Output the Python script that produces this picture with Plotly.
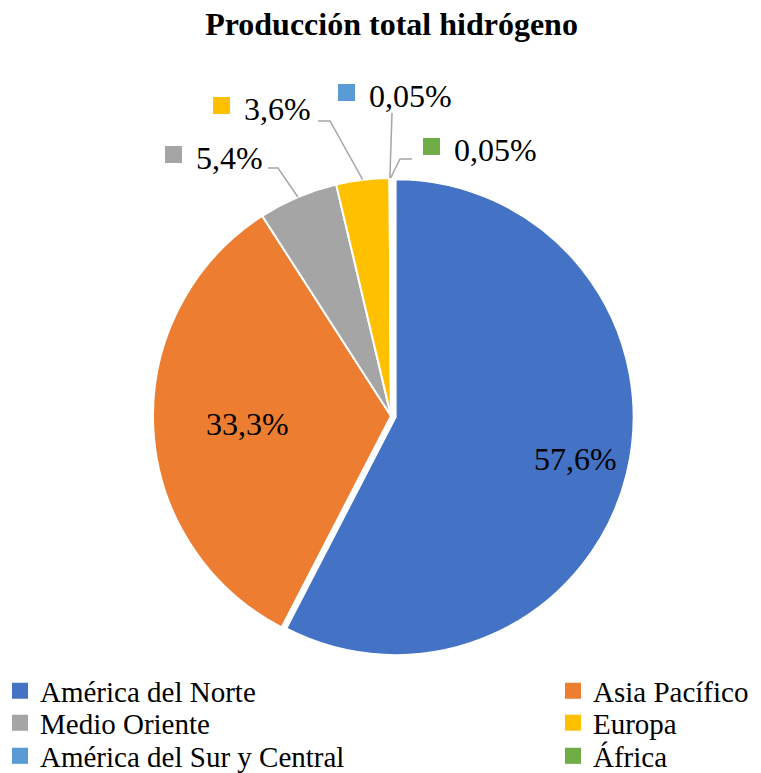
import math
import plotly.graph_objects as go

# ---------------- data ----------------
regions = ["América del Norte", "Asia Pacífico", "Medio Oriente", "Europa",
           "América del Sur y Central", "África"]
shares = [57.6, 33.3, 5.4, 3.6, 0.05, 0.05]
share_text = ["57,6%", "33,3%", "5,4%", "3,6%", "0,05%", "0,05%"]
colors = ["#4472C4", "#ED7D31", "#A5A5A5", "#FFC000", "#5B9BD5", "#70AD47"]

# ---------------- layout constants ----------------
W, H = 761, 773
CX, CY, R = 391.0, 416.0, 238.0
pull = [0.02, 0, 0, 0, 0, 0]
half = R * (1 + max(pull))
FONT = "Liberation Serif, Times New Roman, serif"
LINE_COLOR = "#A6A6A6"
SQ = 17          # label key square size
GAP = 14         # gap square -> text
LEG_COL_X = [0, 553]          # legend column left edges (px)
LEG_ROW_Y = [691, 723, 756]   # legend row centres (px)


def px(x):
    return x / W


def py(y):
    return 1 - y / H


# mid angle of each slice (clockwise from 12 o'clock)
total = sum(shares)
mids = []
cum = 0.0
for v in shares:
    mids.append((cum + v / 2) / total * 2 * math.pi)
    cum += v


def edge_point(i):
    t = mids[i]
    return CX + R * math.sin(t), CY - R * math.cos(t)


fig = go.Figure()
fig.add_trace(go.Pie(
    labels=regions, values=shares, sort=False, direction="clockwise", rotation=0,
    pull=pull, textinfo="none", hoverinfo="label+percent", showlegend=False,
    marker=dict(colors=colors, line=dict(color="white", width=2)),
    domain=dict(x=[px(CX - half), px(CX + half)], y=[py(CY + half), py(CY - half)]),
))

# legend entries: two columns, three rows (one legend box per entry)
legend_layouts = {}
for i, (name, c) in enumerate(zip(regions, colors)):
    key = "legend" if i == 0 else f"legend{i + 1}"
    fig.add_trace(go.Scatter(
        x=[None], y=[None], mode="markers", name=name,
        marker=dict(symbol="square", size=16, color=c),
        legend=key, hoverinfo="skip",
    ))
    legend_layouts[key] = dict(
        orientation="v", xanchor="left", yanchor="middle",
        x=px(LEG_COL_X[i % 2]), y=py(LEG_ROW_Y[i // 2]),
        font=dict(family=FONT, size=29, color="black"),
        bgcolor="rgba(0,0,0,0)", itemclick=False, itemdoubleclick=False,
    )

shapes = []
annotations = []


def add_label(i, sq_left, ty):
    shapes.append(dict(type="rect", xref="paper", yref="paper",
                       x0=px(sq_left), x1=px(sq_left + SQ),
                       y0=py(ty - 3.5 + SQ / 2), y1=py(ty - 3.5 - SQ / 2),
                       fillcolor=colors[i], line=dict(width=0), layer="above"))
    annotations.append(dict(xref="paper", yref="paper", x=px(sq_left + SQ + GAP - 2), y=py(ty),
                            xanchor="left", yanchor="middle", showarrow=False,
                            text=share_text[i],
                            font=dict(family=FONT, size=32, color="black")))


# inside labels: radial fraction along the mid angle
inside = {0: 0.73, 1: 0.67}
GROUP_HALF = 57
for i, frac in inside.items():
    t = mids[i]
    gx = CX + frac * R * math.sin(t)
    gy = CY - frac * R * math.cos(t)
    add_label(i, gx - GROUP_HALF, gy + 2 if i == 0 else gy)

# outside labels with leader lines: (square left, text centre y, leader points)
outside = {
    2: (165, 158, [(268, 168), (278, 168)]),
    3: (213, 109, [(318, 121), (330, 121)]),
    4: (338, 96, [(392, 113)]),
    5: (423, 150, [(412, 159), (400, 159)]),
}
for i, (sq_left, ty, pts) in outside.items():
    add_label(i, sq_left, ty)
    ex, ey = edge_point(i)
    allpts = pts + [(ex, ey)]
    path = "M " + " L ".join(f"{px(x):.5f},{py(y):.5f}" for x, y in allpts)
    shapes.append(dict(type="path", xref="paper", yref="paper", path=path,
                       line=dict(color=LINE_COLOR, width=1.5)))

fig.update_layout(
    width=W, height=H, margin=dict(l=0, r=0, t=0, b=0, autoexpand=False),
    paper_bgcolor="white", plot_bgcolor="white",
    font=dict(family=FONT, color="black"),
    xaxis=dict(visible=False), yaxis=dict(visible=False),
    title=dict(text="<b>Producción total hidrógeno</b>", x=px(391.5), xanchor="center",
               y=py(24), yanchor="middle", font=dict(family=FONT, size=32, color="black")),
    shapes=shapes, annotations=annotations,
    **legend_layouts,
)

fig.write_html("out.html", config={"displayModeBar": False},
               post_script="document.body.style.margin='0';")
